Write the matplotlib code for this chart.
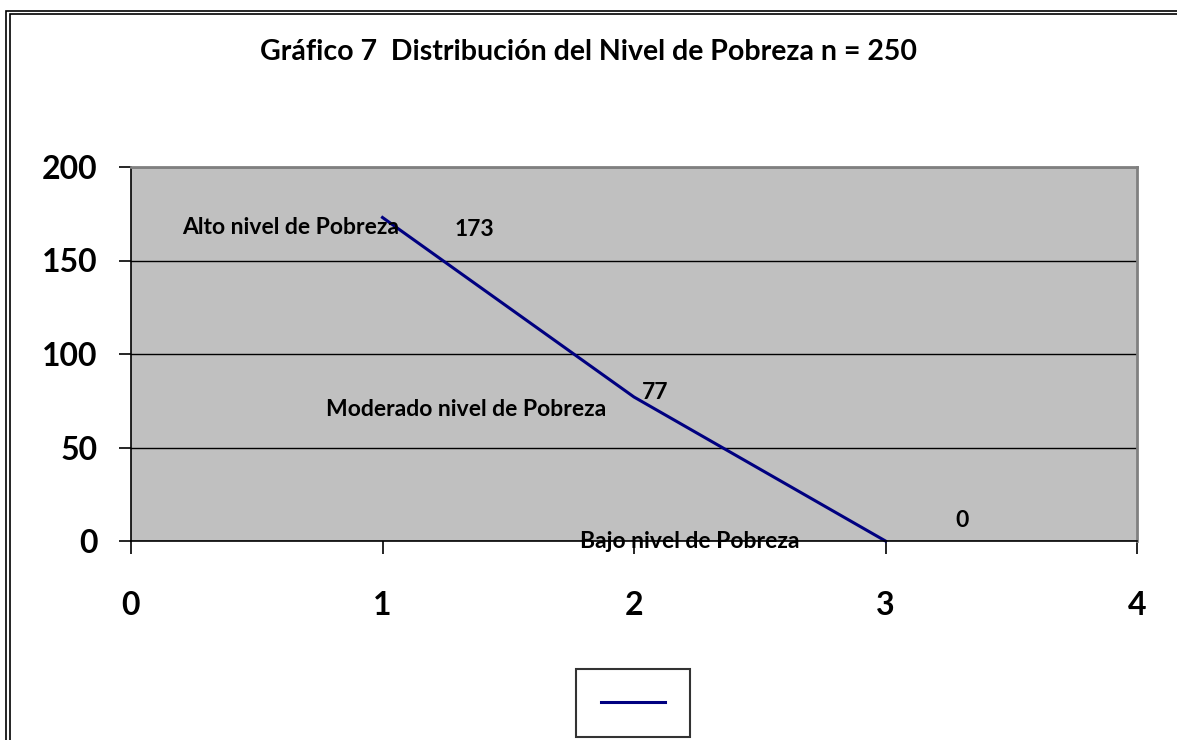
import matplotlib.pyplot as plt
from matplotlib.patches import Rectangle

# Datos del gráfico
x_vals = [1, 2, 3]
niveles = [173, 77, 0]
categorias = ['Alto nivel de Pobreza', 'Moderado nivel de Pobreza', 'Bajo nivel de Pobreza']
titulo = 'Gráfico 7  Distribución del Nivel de Pobreza n = 250'
x_ticks = [0, 1, 2, 3, 4]
y_ticks = [0, 50, 100, 150, 200]

W, H = 1177, 740
plt.rcParams['font.family'] = ['Lato', 'DejaVu Sans']

fig = plt.figure(figsize=(W / 100, H / 100), dpi=100)
fig.patch.set_facecolor('white')

# Marco doble exterior (cortado a la derecha y abajo)
for off in (6, 9.5):
    fig.patches.append(Rectangle((off / W, -0.1), 1.2, 1 - (off + 5) / H + 0.1,
                                 transform=fig.transFigure, fill=False,
                                 edgecolor='black', linewidth=1.2))

ax = fig.add_axes([131 / W, 1 - 541 / H, (1137 - 131) / W, (541 - 167) / H])
ax.set_facecolor('#c0c0c0')
ax.set_xlim(0, 4)
ax.set_ylim(0, 200)
ax.set_xticks(x_ticks)
ax.set_yticks(y_ticks)
ax.yaxis.grid(True, color='black', linewidth=1)
ax.set_axisbelow(True)
for s in ('top', 'right'):
    ax.spines[s].set_color('#808080')
    ax.spines[s].set_linewidth(2)
for s in ('left', 'bottom'):
    ax.spines[s].set_color('black')
    ax.spines[s].set_linewidth(1.2)
ax.tick_params(axis='both', direction='out', length=9, width=1.2, labelsize=23)
ax.tick_params(axis='x', pad=27)
ax.tick_params(axis='y', pad=15)
for lab in ax.get_xticklabels() + ax.get_yticklabels():
    lab.set_fontweight('bold')

linea, = ax.plot(x_vals, niveles, color='#000080', linewidth=2.2, clip_on=False)

# Etiquetas de datos
fs = 16.5
ax.annotate(categorias[0], (x_vals[0], niveles[0]), xytext=(12, -7),
            textcoords='offset points', ha='right', va='center',
            fontsize=fs, fontweight='bold')
ax.annotate(str(niveles[0]), (x_vals[0], niveles[0]), xytext=(52, -9),
            textcoords='offset points', ha='left', va='center',
            fontsize=fs, fontweight='bold')
ax.annotate(categorias[1], (x_vals[1], niveles[1]), xytext=(-121, -9),
            textcoords='offset points', ha='center', va='center',
            fontsize=fs, fontweight='bold')
ax.annotate(str(niveles[1]), (x_vals[1], niveles[1]), xytext=(6, 3),
            textcoords='offset points', ha='left', va='center',
            fontsize=fs, fontweight='bold')
ax.annotate(categorias[2], (x_vals[2], niveles[2]), xytext=(-141, 0),
            textcoords='offset points', ha='center', va='center',
            fontsize=fs, fontweight='bold')
ax.annotate(str(niveles[2]), (x_vals[2], niveles[2]), xytext=(50, 15),
            textcoords='offset points', ha='left', va='center',
            fontsize=fs, fontweight='bold')

fig.text(589 / W, 1 - 52 / H, titulo, ha='center', va='center',
         fontsize=20.5, fontweight='bold')

leg = fig.legend([linea], [''], loc='center', bbox_to_anchor=(633 / W, 1 - 703 / H),
                 frameon=True, fancybox=False, edgecolor='black', fontsize=14,
                 handlelength=3.3, handletextpad=0, borderpad=1.3, borderaxespad=0)
leg.get_frame().set_linewidth(1.5)

fig.savefig('out.png', dpi=100)
